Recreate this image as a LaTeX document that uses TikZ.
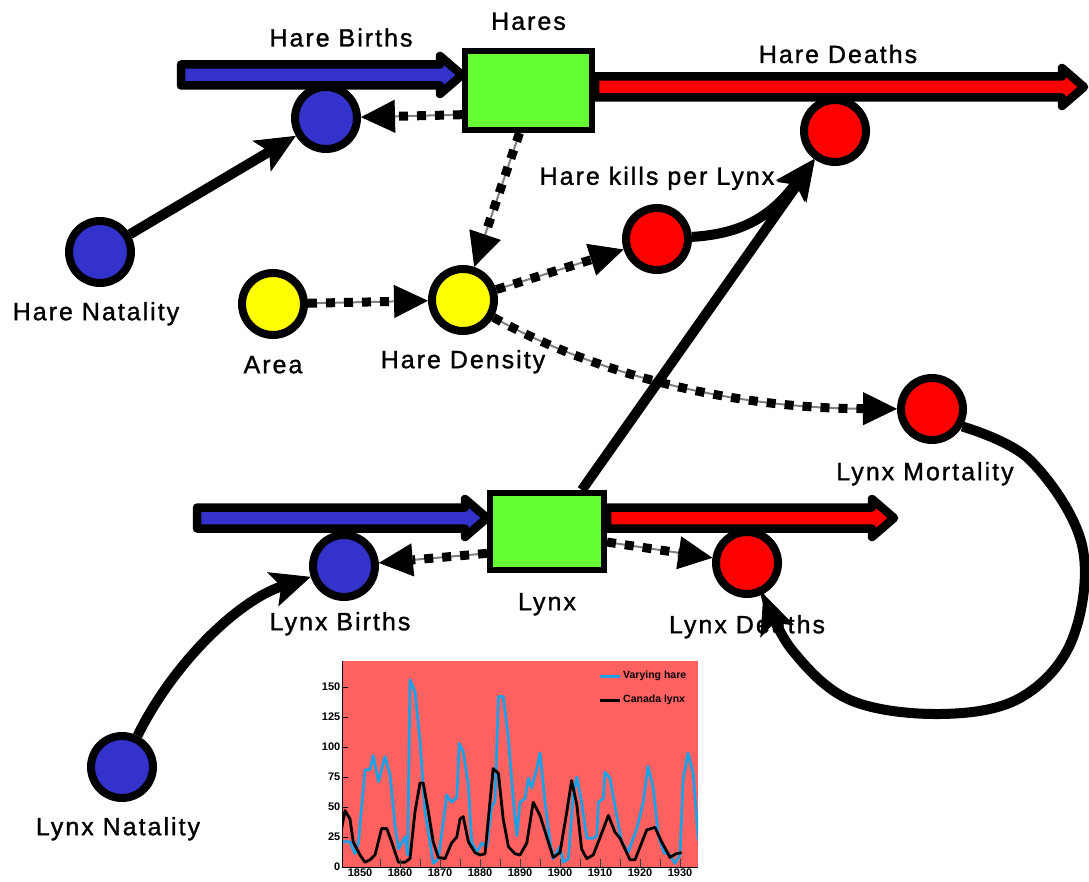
\documentclass[tikz,border=0pt]{standalone}
\usepackage{fontspec}
\setmainfont{Liberation Sans}
\newfontfamily\varfont{Liberation Sans}[LetterSpace=8, FakeBold=1.2]
\usetikzlibrary{positioning,calc,arrows.meta}
\definecolor{hareblue}{HTML}{3333CC}
\definecolor{stockgreen}{HTML}{66FF33}
\definecolor{deathred}{HTML}{FF0000}
\definecolor{densyellow}{HTML}{FFFF00}
\definecolor{plotred}{HTML}{FF6060}
\definecolor{plotcyan}{HTML}{1EA0E6}
\newcommand{\drawpipe}[3]{% from, tip, fill colour
  \draw[pipeline, fill=#3] ($(#1)+(0,-10.5)$) -- ($(#2)+(-22,-10.5)$) -- ($(#2)+(-22,-19)$) -- (#2)
    -- ($(#2)+(-22,19)$) -- ($(#2)+(-22,10.5)$) -- ($(#1)+(0,10.5)$) -- cycle;}

\begin{document}
\begin{tikzpicture}[
    x=1pt, y=-1pt, % <-- picture in pixel units, y downwards
    stock/.style={draw, line width=6pt, fill=stockgreen, minimum width=127pt, minimum height=79pt, inner sep=0pt},
    conv/.style={circle, draw, line width=8pt, minimum size=62pt, inner sep=0pt},
    lbl/.style={font=\varfont\fontsize{25}{30}\selectfont, inner sep=0pt, text height=18pt, text depth=5pt},
    pipeline/.style={line width=8.5pt, line join=round},
    cause/.style={line width=10pt, -{Stealth[length=40pt, width=36pt, inset=9pt, line width=1pt]}},
    infolink/.style={draw=black!50, line width=2pt, -{Triangle[length=34pt, width=33pt, line width=1pt, color=black, fill=black]},
      postaction={draw=black, line width=9pt, dash pattern=on 9pt off 9pt, shorten >=34pt, arrows=-}},
    ticklbl/.style={font=\bfseries\fontsize{11}{12}\selectfont, inner sep=1.5pt},
    legendlbl/.style={font=\bfseries\fontsize{10.5}{12}\selectfont, inner sep=1pt}
  ]
  \useasboundingbox (0,0) rectangle (1089,882);

  % Stocks
  \node[stock] (hares) at (528.5,90.5) {};
  \node[stock, minimum width=114pt, minimum height=77pt] (lynx) at (547,531.5) {};

  % Converters
  \node[conv, fill=hareblue] (hbirths) at (326,118) {};
  \node[conv, fill=deathred] (hdeaths) at (835,131) {};
  \node[conv, fill=hareblue] (hnat) at (100,252) {};
  \node[conv, fill=deathred] (hkills) at (657,239) {};
  \node[conv, fill=densyellow] (area) at (273,304) {};
  \node[conv, fill=densyellow] (hdens) at (463,300) {};
  \node[conv, fill=deathred] (lmort) at (932,409) {};
  \node[conv, fill=hareblue] (lbirths) at (344,566) {};
  \node[conv, fill=deathred] (ldeaths) at (747,563) {};
  \node[conv, fill=hareblue] (lnat) at (122,767) {};

  % Flows
  \coordinate (hsrc) at (181,75);
  \coordinate (hin) at (hares.west |- hsrc);
  \coordinate (hsink) at (1084,87);
  \coordinate (hout) at (hares.east |- hsink);
  \coordinate (lsrc) at (197,518);
  \coordinate (lin) at (lynx.west |- lsrc);
  \coordinate (lsink) at (894,518);
  \coordinate (lout) at (lynx.east |- lsink);
  \drawpipe{hsrc}{hin}{hareblue}
  \drawpipe{hout}{hsink}{deathred}
  \drawpipe{lsrc}{lin}{hareblue}
  \drawpipe{lout}{lsink}{deathred}

  % Labels
  \node[lbl, above=13pt of hares] (hareslbl) {Hares};
  \node[lbl] (hbirthslbl) at (341,40) {Hare Births};
  \node[lbl] (hdeathslbl) at (838,56.5) {Hare Deaths};
  \node[lbl, above=14pt of hkills] (hkillslbl) {Hare kills per Lynx};
  \node[lbl, below=15pt of hnat, xshift=-4pt] (hnatlbl) {Hare Natality};
  \node[lbl, below=16pt of area] (arealbl) {Area};
  \node[lbl, below=15pt of hdens] (hdenslbl) {Hare Density};
  \node[lbl, below=18pt of lmort, xshift=-7pt] (lmortlbl) {Lynx Mortality};
  \node[lbl, below=19pt of lynx] (lynxlbl) {Lynx};
  \node[lbl, below=11pt of lbirths, xshift=-4pt] (lbirthslbl) {Lynx Births};
  \node[lbl, below=17pt of ldeaths] (ldeathslbl) {Lynx Deaths};
  \node[lbl, below=15pt of lnat, xshift=-4pt] (lnatlbl) {Lynx Natality};

  % Links
  \draw[cause] (hnat) -- (hbirths);
  \draw[infolink] (hares.200) -- (hbirths);
  \draw[infolink] (hares.258) -- (hdens);
  \draw[infolink] (area) -- (hdens);
  \draw[infolink] (hdens) -- (hkills);
  \draw[infolink] (hdens) .. controls (565,358) and (700,408) .. (lmort);
  \draw[cause] (hkills) .. controls (740,234) and (770,218) .. (hdeaths);
  \draw[cause] (lynx.50) -- (hdeaths);
  \draw[infolink] (lynx.200) -- (lbirths);
  \draw[infolink] (lynx.-10) -- (ldeaths);
  \draw[cause] plot[smooth, tension=0.6] coordinates {(lmort.-30) (1030,460) (1082,545) (1072,640)
    (1020,698) (940,714) (850,700) (792,650) (ldeaths.-62)};
  \draw[cause] (lnat) .. controls (175,660) and (240,600) .. (lbirths);

  % Hare and lynx records
  \begin{scope}[shift={(360,867)}, x=4pt, y=1.2pt]
    \fill[plotred] (-4.5,0) rectangle (84.5,171.5);
    \begin{scope}
      \clip (-4.5,0) rectangle (84.5,171.5);
      \draw[plotcyan, line width=2.8pt, line join=round] plot coordinates {
        (-4.6,21) (-2.5,21) (-1.25,11) (-0.4,20) (1.25,81) (2.5,81) (3.3,93) (4.6,71) (6.25,92) (7.5,77)
        (8.75,35) (9.6,15) (11.25,25) (11.9,10) (12.5,156) (13.75,146) (15,105) (16.25,46) (17.5,21)
        (18.3,3) (19.6,7) (21.7,60) (22.9,54) (24.2,58) (24.8,103) (25.8,96) (27.1,68) (27.9,21)
        (29.2,12) (30.4,20) (31.7,17) (32.9,50) (33.75,55) (34.6,142) (35.8,142) (37.1,107) (38.3,57)
        (39.2,26) (40,54) (41.25,57) (42.1,74) (42.9,66) (44.2,82) (45,95) (46.25,54) (47.5,21)
        (48.3,7) (50,17) (50.8,4) (52.1,7) (53.3,60) (54.2,75) (55.4,54) (56.7,24) (58.3,24) (59.2,26)
        (59.6,54) (60.8,57) (61.25,79) (62.5,74) (64,46) (65.4,21) (67,12) (69.2,32) (70.8,54) (72,84)
        (73.3,66) (74.6,26) (76,12) (77.5,10) (78.75,3) (80,10) (80.8,74) (82,95) (83.3,78) (84.6,22)};
      \draw[black, line width=2.8pt, line join=round] plot coordinates {
        (-4.6,32) (-3.75,47) (-2.5,40) (-1.7,21) (0,10) (1.25,4) (2.5,6) (3.75,10) (5.4,32) (6.7,32)
        (7.9,21) (9.6,4) (11.25,4) (12.5,7) (13.75,46) (15,70) (15.8,70) (17.1,46) (18.3,21) (19.6,8)
        (21.25,7) (22.9,20) (24.2,25) (25,40) (25.8,42) (27.1,21) (28.75,12) (30,10) (31.25,11)
        (33.3,82) (34.6,78) (35.8,40) (37.1,17) (38.75,11) (40,10) (41.7,20) (43.3,54) (45,43)
        (46.7,25) (48.3,8) (50,12) (51.7,46) (52.9,72) (54.2,52) (55.4,15) (56.7,7) (58.3,10)
        (59.6,21) (62.1,43) (63.75,29) (65,24) (67.5,6) (68.75,6) (70.4,20) (71.7,31) (73.75,33)
        (75.4,21) (77.5,8) (79,11) (80.4,12)};
    \end{scope}
    \draw[line width=1pt] (-4.5,171.5) -- (-4.5,0) -- (84.5,0);
    \foreach \t in {5,10,...,80}
      \draw[line width=1pt, black!75] (\t,0) -- (\t,7);
    \foreach \v in {0,25,...,150} {
      \draw[line width=1pt] (-4.5,\v) -- (-3,\v);
      \node[ticklbl, left] (ylab\v) at (-4.5,\v) {\v};
    }
    \foreach \yr in {1850,1860,...,1930}
      \node[ticklbl, below] (xlab\yr) at ({\yr-1850},0) {\yr};
    % legend
    \draw[plotcyan, line width=2.8pt] (60,159) -- (65,159);
    \node[legendlbl, right] (leghare) at (65.5,159) {Varying hare};
    \draw[black, line width=2.8pt] (60,139) -- (65,139);
    \node[legendlbl, right] (leglynx) at (65.5,139) {Canada lynx};
  \end{scope}
\end{tikzpicture}
\end{document}
